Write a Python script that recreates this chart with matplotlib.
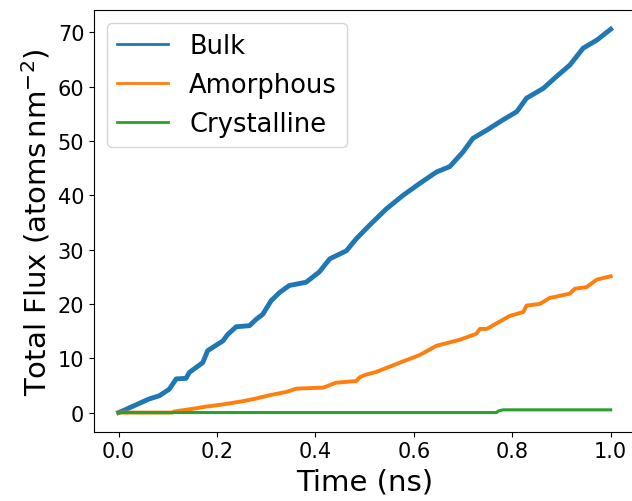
import matplotlib
matplotlib.use("Agg")
import matplotlib.pyplot as plt
from matplotlib.lines import Line2D

# values (time in ns, flux in atoms nm^-2)
bulk_t = [0.0, 0.008, 0.03, 0.062, 0.083, 0.103, 0.117, 0.137, 0.144, 0.171, 0.181,
          0.212, 0.222, 0.239, 0.266, 0.280, 0.293, 0.310, 0.327, 0.347, 0.381,
          0.408, 0.429, 0.463, 0.483, 0.510, 0.544, 0.578, 0.612, 0.646, 0.673,
          0.700, 0.720, 0.748, 0.781, 0.809, 0.829, 0.863, 0.890, 0.917, 0.944,
          0.972, 1.0]
bulk_y = [0.0, 0.3, 1.2, 2.5, 3.1, 4.3, 6.2, 6.3, 7.4, 9.2, 11.4,
          13.2, 14.4, 15.8, 16.0, 17.2, 18.1, 20.6, 22.1, 23.4, 24.0,
          25.9, 28.3, 29.8, 32.0, 34.5, 37.5, 40.0, 42.2, 44.3, 45.3,
          48.0, 50.5, 52.0, 53.9, 55.4, 57.9, 59.7, 61.9, 64.0, 67.1,
          68.6, 70.6]

amor_t = [0.0, 0.11, 0.113, 0.144, 0.178, 0.212, 0.253, 0.280, 0.307, 0.341,
          0.361, 0.416, 0.442, 0.483, 0.490, 0.500, 0.524, 0.572, 0.612, 0.646,
          0.693, 0.727, 0.734, 0.748, 0.795, 0.822, 0.829, 0.856, 0.876, 0.917,
          0.927, 0.951, 0.972, 1.0]
amor_y = [0.0, 0.0, 0.2, 0.6, 1.1, 1.5, 2.1, 2.6, 3.2, 3.8,
          4.4, 4.6, 5.5, 5.8, 6.5, 6.9, 7.5, 9.2, 10.6, 12.3,
          13.4, 14.5, 15.4, 15.4, 17.8, 18.5, 19.7, 20.0, 21.1, 21.9,
          22.8, 23.1, 24.5, 25.1]

crys_t = [0.0, 0.768, 0.772, 0.781, 1.0]
crys_y = [0.0, 0.0, 0.3, 0.5, 0.5]

fig = plt.figure(figsize=(6.32, 5.02), dpi=100)
ax = fig.add_axes([0.1487, 0.138, 0.8565, 0.840])

ax.plot(bulk_t, bulk_y, color='#1f77b4', lw=3.5)
ax.plot(amor_t, amor_y, color='#ff7f0e', lw=2.8)
ax.plot(crys_t, crys_y, color='#2ca02c', lw=2.2)

handles = [Line2D([], [], color='#1f77b4', lw=2),
           Line2D([], [], color='#ff7f0e', lw=2),
           Line2D([], [], color='#2ca02c', lw=2)]
ax.legend(handles, ['Bulk', 'Amorphous', 'Crystalline'], loc='upper left', fontsize=18.5)

ax.set_xlabel("Time (ns)", fontsize=21)
ax.set_ylabel(r"Total Flux (atoms$\,$nm$^{-2}$)", fontsize=21)
ax.tick_params(labelsize=15)

fig.savefig("out.png", dpi=100)
